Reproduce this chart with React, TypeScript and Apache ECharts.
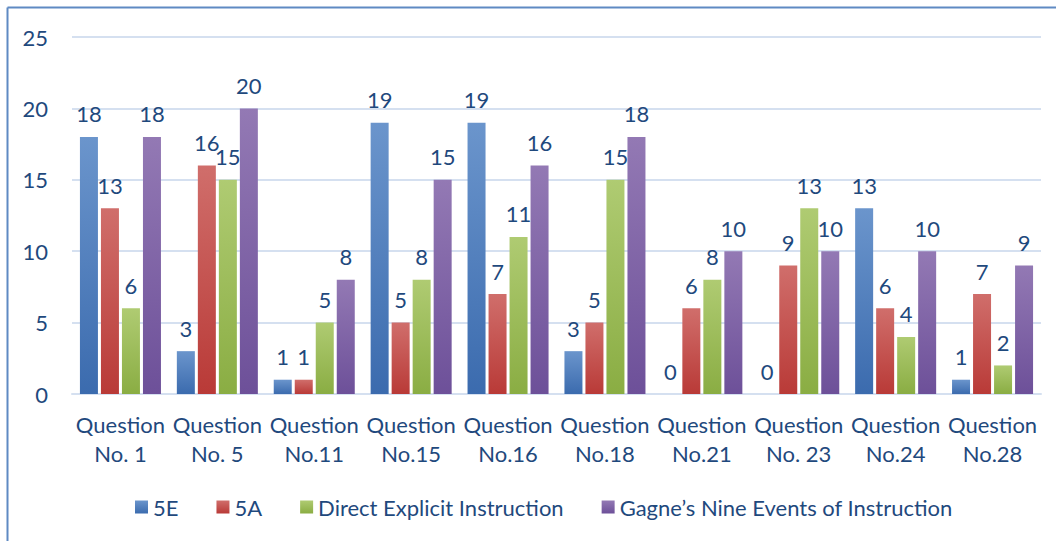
import React, { useEffect, useRef } from "react";
import * as echarts from "echarts";

const categories = [
  "Question\nNo. 1",
  "Question\nNo. 5",
  "Question\nNo.11",
  "Question\nNo.15",
  "Question\nNo.16",
  "Question\nNo.18",
  "Question\nNo.21",
  "Question\nNo. 23",
  "Question\nNo.24",
  "Question\nNo.28",
];
const s5E = [18, 3, 1, 19, 19, 3, 0, 0, 13, 1];
const s5A = [13, 16, 1, 5, 7, 5, 6, 9, 6, 7];
const sDirect = [6, 15, 5, 8, 11, 15, 8, 13, 4, 2];
const sGagne = [18, 20, 8, 15, 16, 18, 10, 10, 10, 9];
const seriesNames = ["5E", "5A", "Direct Explicit Instruction", "Gagne\u2019s Nine Events of Instruction"];

const TEXT = "#1F497D";
const FONT = "Lato";

function grad(top: string, bottom: string) {
  return new echarts.graphic.LinearGradient(0, 0, 0, 1, [
    { offset: 0, color: top },
    { offset: 1, color: bottom },
  ]);
}

export default function App() {
  const ref = useRef<HTMLDivElement>(null);
  useEffect(() => {
    if (!ref.current) return;
    const chart = echarts.init(ref.current, undefined, { renderer: "svg" });
    const colors = [
      grad("#6b95cc", "#3b6bae"),
      grad("#d06e6b", "#b93a37"),
      grad("#afcb72", "#8aad43"),
      grad("#9379b4", "#6d5099"),
    ];
    const datas = [s5E, s5A, sDirect, sGagne];
    chart.setOption({
      animation: false,
      textStyle: { fontFamily: FONT },
      grid: { left: 72, right: 15, top: 37, bottom: 147 },
      graphic: [
        { type: "line", shape: { x1: 7.5, y1: 7.5, x2: 1056, y2: 7.5 }, style: { stroke: "#5f8ac3", lineWidth: 2 } },
        { type: "line", shape: { x1: 7.5, y1: 7.5, x2: 7.5, y2: 541 }, style: { stroke: "#5f8ac3", lineWidth: 2 } },
      ],
      legend: {
        left: 130,
        top: 491,
        itemWidth: 13,
        itemHeight: 13,
        itemGap: 38,
        icon: "rect",
        textStyle: { color: TEXT, fontSize: 22, fontFamily: FONT },
        data: seriesNames,
      },
      xAxis: {
        type: "category",
        data: categories,
        axisLine: { show: true, lineStyle: { color: "#d5e0f0", width: 2 } },
        axisTick: { show: false },
        axisLabel: {
          color: TEXT,
          fontSize: 22,
          lineHeight: 29,
          margin: 16,
          interval: 0,
          fontFamily: FONT,
        },
      },
      yAxis: {
        type: "value",
        min: 0,
        max: 25,
        interval: 5,
        axisLine: { show: false },
        axisTick: { show: false },
        splitLine: { lineStyle: { color: "#d5e0f0", width: 2 } },
        axisLabel: { color: TEXT, fontSize: 22, margin: 24, fontFamily: FONT },
      },
      series: datas.map((d, i) => ({
        name: seriesNames[i],
        type: "bar",
        data: d,
        barWidth: 18,
        barGap: "16.7%",
        itemStyle: { color: colors[i] },
        label: {
          show: true,
          position: "top",
          distance: 12,
          color: TEXT,
          fontSize: 22,
          fontFamily: FONT,
        },
      })),
    });
    return () => chart.dispose();
  }, []);
  return (
    <div
      ref={ref}
      style={{ position: "fixed", left: 0, top: 0, width: 1056, height: 541, background: "#fff" }}
    />
  );
}
